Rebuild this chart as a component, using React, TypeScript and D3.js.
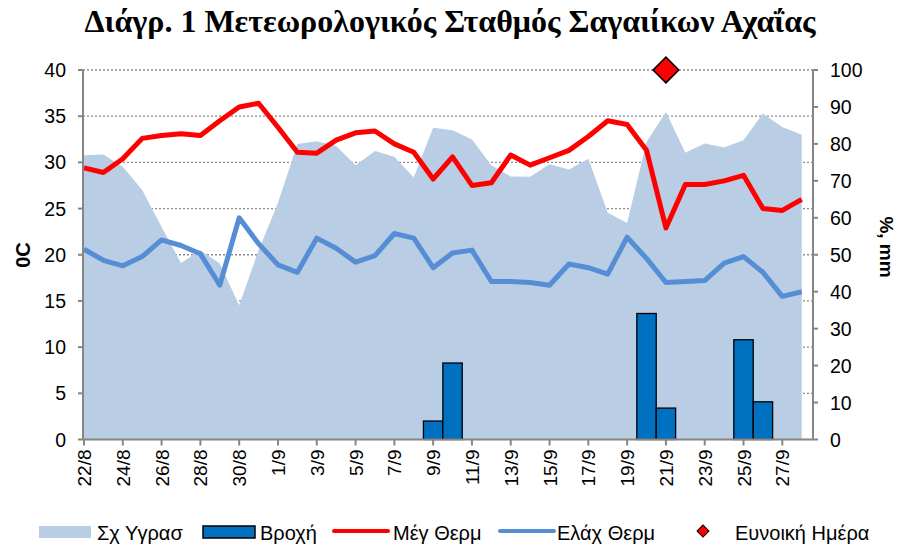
import React from "react";
import * as d3 from "d3";

// dates 22/8 .. 28/9
const dates = [
	"22/8", "23/8", "24/8", "25/8", "26/8", "27/8", "28/8", "29/8", "30/8", "31/8",
	"1/9", "2/9", "3/9", "4/9", "5/9", "6/9", "7/9", "8/9", "9/9", "10/9",
	"11/9", "12/9", "13/9", "14/9", "15/9", "16/9", "17/9", "18/9", "19/9", "20/9",
	"21/9", "22/9", "23/9", "24/9", "25/9", "26/9", "27/9", "28/9",
];

const maxTemp = [
	29.4, 28.9, 30.4, 32.6, 32.9, 33.1, 32.9, 34.5, 36.0, 36.4,
	33.8, 31.1, 31.0, 32.4, 33.2, 33.4, 32.0, 31.1, 28.2, 30.6,
	27.5, 27.8, 30.8, 29.7, 30.5, 31.3, 32.8, 34.5, 34.1, 31.3,
	22.9, 27.6, 27.6, 28.0, 28.6, 25.0, 24.8, 26.0,
];

const minTemp = [
	20.6, 19.4, 18.8, 19.8, 21.6, 21.0, 20.1, 16.7, 24.0, 21.2,
	18.9, 18.1, 21.8, 20.7, 19.2, 19.9, 22.3, 21.8, 18.6, 20.2,
	20.5, 17.1, 17.1, 17.0, 16.7, 19.0, 18.6, 17.9, 21.9, 19.6,
	17.0, 17.1, 17.2, 19.1, 19.8, 18.1, 15.5, 16.0,
];

const humidity = [
	76.9, 77.1, 73.8, 67.5, 57.5, 47.8, 51.2, 47.6, 36.3, 51.2,
	64.0, 80.0, 80.7, 79.4, 74.2, 78.1, 76.5, 70.9, 84.4, 83.7,
	81.2, 74.2, 71.2, 71.1, 74.5, 73.1, 76.0, 61.4, 58.6, 80.5,
	88.6, 77.6, 80.1, 79.0, 81.0, 88.2, 84.6, 82.5,
];

const rainDays = ["9/9", "10/9", "20/9", "21/9", "25/9", "26/9"];
const rainMm = [5.0, 20.7, 34.1, 8.5, 27.0, 10.2];

const goodDays = ["21/9"];
const goodValue = [100];

const leftTicks = [0, 5, 10, 15, 20, 25, 30, 35, 40];
const rightTicks = [0, 10, 20, 30, 40, 50, 60, 70, 80, 90, 100];

const font = "'Liberation Sans', Arial, sans-serif";

const App = () => {
	const left = 83;
	const right = 813;
	const top = 70;
	const bottom = 439.5;

	const x = d3.scalePoint<string>().domain(dates).range([84, 801.7]);
	const step = x.step();
	const yL = d3.scaleLinear().domain([0, 40]).range([bottom, top]);
	const yR = d3.scaleLinear().domain([0, 100]).range([bottom, top]);

	const area = d3
		.area<number>()
		.x((_, i) => x(dates[i]) as number)
		.y0(bottom)
		.y1((d) => yR(d));

	const line = d3
		.line<number>()
		.x((_, i) => x(dates[i]) as number)
		.y((d) => yL(d));

	const diamond = d3.symbol().type(d3.symbolSquare);
	const labelDates = dates.filter((_, i) => i % 2 === 0);

	return (
		<svg
			width={897}
			height={544}
			style={{ position: "absolute", left: 0, top: 0, background: "#fff" }}
			fontFamily={font}
		>
			<text
				x={450}
				y={32}
				textAnchor="middle"
				fontFamily="'Liberation Serif', 'Times New Roman', serif"
				fontWeight="bold"
				fontSize={32}
			>
				Διάγρ. 1 Μετεωρολογικός Σταθμός Σαγαιίκων Αχαΐας
			</text>

			{/* gridlines */}
			{leftTicks.slice(1).map((t) => (
				<line
					key={t}
					x1={left}
					x2={right}
					y1={yL(t)}
					y2={yL(t)}
					stroke="#8c8c8c"
					strokeWidth={1.3}
					strokeDasharray="2 2"
				/>
			))}

			<path d={area(humidity) ?? ""} fill="#B9CDE5" />

			{rainDays.map((d, i) => (
				<rect
					key={d}
					x={(x(d) as number) - step / 2}
					y={yR(rainMm[i])}
					width={step}
					height={bottom - yR(rainMm[i])}
					fill="#0070C0"
					stroke="#000"
					strokeWidth={1.3}
				/>
			))}

			<path d={line(maxTemp) ?? ""} fill="none" stroke="#FF0000" strokeWidth={5} strokeLinejoin="round" />
			<path d={line(minTemp) ?? ""} fill="none" stroke="#558ED5" strokeWidth={5} strokeLinejoin="round" />

			{goodDays.map((d, i) => (
				<path
					key={d}
					d={diamond.size(330)() ?? ""}
					transform={`translate(${x(d)},${yR(goodValue[i])}) rotate(45)`}
					fill="#FF0000"
					stroke="#000"
					strokeWidth={1.5}
				/>
			))}

			{/* axes */}
			<line x1={left} x2={left} y1={top} y2={bottom} stroke="#868686" strokeWidth={2} />
			<line x1={right} x2={right} y1={top} y2={bottom} stroke="#868686" strokeWidth={2} />
			<line x1={left} x2={right} y1={bottom} y2={bottom} stroke="#868686" strokeWidth={2} />

			{leftTicks.map((t) => (
				<g key={t}>
					<line x1={left - 5} x2={left} y1={yL(t)} y2={yL(t)} stroke="#868686" strokeWidth={2} />
					<text x={66} y={yL(t) + 7} textAnchor="end" fontSize={19.5}>
						{t}
					</text>
				</g>
			))}
			{rightTicks.map((t) => (
				<g key={t}>
					<line x1={right} x2={right + 5} y1={yR(t)} y2={yR(t)} stroke="#868686" strokeWidth={2} />
					<text x={830} y={yR(t) + 7} textAnchor="start" fontSize={19.5}>
						{t}
					</text>
				</g>
			))}
			{labelDates.map((d) => (
				<g key={d} transform={`translate(${x(d)},${bottom})`}>
					<line y1={0} y2={6} stroke="#868686" strokeWidth={2} />
					<text transform="translate(7,10) rotate(-90)" textAnchor="end" fontSize={19}>
						{d}
					</text>
				</g>
			))}

			<text transform="translate(30,255) rotate(-90)" textAnchor="middle" fontWeight="bold" fontSize={20}>
				0C
			</text>
			<text transform="translate(880,247) rotate(90)" textAnchor="middle" fontWeight="bold" fontSize={19}>
				%, mm
			</text>

			{/* legend */}
			<g fontSize={20}>
				<rect x={39} y={526} width={52} height={12} fill="#B9CDE5" />
				<text x={97} y={540}>Σχ Υγρασ</text>
				<rect x={203} y={526} width={52} height={12} fill="#0070C0" stroke="#000" strokeWidth={1.5} />
				<text x={260} y={540}>Βροχή</text>
				<line x1={334} x2={388} y1={531} y2={531} stroke="#FF0000" strokeWidth={4} strokeLinecap="round" />
				<text x={393} y={540}>Μέγ Θερμ</text>
				<line x1={500} x2={554} y1={531} y2={531} stroke="#558ED5" strokeWidth={4} strokeLinecap="round" />
				<text x={557} y={540}>Ελάχ Θερμ</text>
				<path
					d={diamond.size(72)() ?? ""}
					transform="translate(703,531) rotate(45)"
					fill="#FF0000"
					stroke="#000"
					strokeWidth={1}
				/>
				<text x={735} y={540}>Ευνοική Ημέρα</text>
			</g>
		</svg>
	);
};

export default App;
